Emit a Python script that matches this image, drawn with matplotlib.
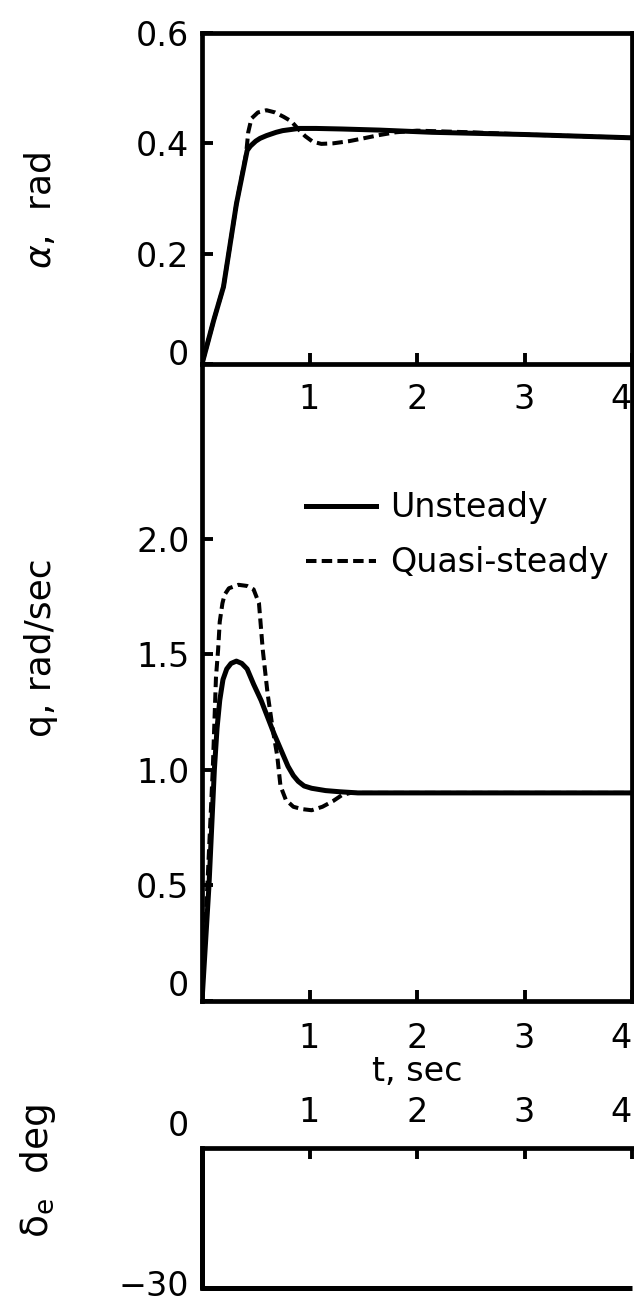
import matplotlib
matplotlib.use('Agg')
import matplotlib.pyplot as plt
from matplotlib.transforms import ScaledTranslation

plt.rcParams['font.family'] = ['DejaVu Sans']
plt.rcParams['font.size'] = 24
plt.rcParams['mathtext.fontset'] = 'dejavusans'

# angle of attack, rad
t_alpha_unst = [0, 0.11, 0.20, 0.32, 0.42, 0.45, 0.50, 0.54, 0.60, 0.69, 0.75, 0.90, 1.06, 1.30, 1.65, 2.14, 3.0, 4.0]
alpha_unst = [0, 0.08, 0.14, 0.29, 0.387, 0.395, 0.404, 0.409, 0.414, 0.42, 0.423, 0.427, 0.427, 0.426, 0.424, 0.42, 0.416, 0.41]
t_alpha_qs = [0, 0.11, 0.20, 0.32, 0.41, 0.43, 0.46, 0.52, 0.60, 0.68, 0.76, 0.83, 0.90, 0.96, 1.03, 1.11,
              1.22, 1.37, 1.50, 1.65, 1.80, 2.0, 2.5, 3.0, 4.0]
alpha_qs = [0, 0.08, 0.14, 0.29, 0.38, 0.42, 0.445, 0.456, 0.46, 0.456, 0.448, 0.44, 0.425, 0.413, 0.403, 0.399,
            0.40, 0.404, 0.409, 0.415, 0.42, 0.423, 0.42, 0.416, 0.41]

# pitch rate, rad/sec
t_q_unst = [0, 0.065, 0.115, 0.14, 0.165, 0.195, 0.23, 0.27, 0.32, 0.37, 0.42, 0.48, 0.55, 0.67, 0.80, 0.85,
            0.895, 0.95, 1.02, 1.15, 1.28, 1.45, 4.0]
q_unst = [0, 0.5, 1.0, 1.18, 1.30, 1.39, 1.436, 1.46, 1.47, 1.46, 1.436, 1.37, 1.30, 1.156, 1.015, 0.975,
          0.95, 0.93, 0.92, 0.91, 0.905, 0.90, 0.90]
t_q_qs = [0, 0.05, 0.10, 0.13, 0.15, 0.165, 0.19, 0.21, 0.25, 0.34, 0.42, 0.48, 0.53, 0.565, 0.61, 0.66,
          0.70, 0.73, 0.78, 0.85, 0.93, 1.02, 1.12, 1.22, 1.30, 1.38, 4.0]
q_qs = [0, 0.5, 1.0, 1.40, 1.52, 1.64, 1.72, 1.757, 1.785, 1.80, 1.795, 1.78, 1.72, 1.52, 1.33, 1.17,
        1.06, 0.93, 0.87, 0.84, 0.83, 0.825, 0.84, 0.865, 0.89, 0.90, 0.90]

# elevator step, deg
t_de = [0, 0, 4]
de = [0, -30, -30]

t_ticks = [1, 2, 3, 4]
t_labels = ['1', '2', '3', '4']
alpha_ticks = [0, 0.2, 0.4, 0.6]
alpha_labels = ['0', '0.2', '0.4', '0.6']
q_ticks = [0, 0.5, 1.0, 1.5, 2.0]
q_labels = ['0', '0.5', '1.0', '1.5', '2.0']
de_ticks = [0, -30]
de_labels = ['0', '\u221230']

SOLID_LW = 3.6
DASH_LW = 2.9
DASHES = (2.6, 1.3)

fig = plt.figure(figsize=(6.34, 13.02), dpi=100)


def fy(px):
    return 1 - px / 1302


L, W = 202 / 634, 430 / 634
ax_a = fig.add_axes([L, fy(364), W, fy(33) - fy(364)])
ax_q = fig.add_axes([L, fy(1001), W, fy(364) - fy(1001)])
ax_d = fig.add_axes([L, fy(1288), W, fy(1148) - fy(1288)])

for ax in (ax_a, ax_q, ax_d):
    ax.patch.set_visible(False)
    for s in ax.spines.values():
        s.set_linewidth(3.4)
    ax.set_xlim(0, 4)
    ax.tick_params(direction='in', length=8, width=2.8, labelsize=24)
    ax.tick_params(axis='y', pad=9)


def shift_label(ax, i, dy):
    lab = ax.get_yticklabels()[i]
    lab.set_transform(lab.get_transform() + ScaledTranslation(0, dy, fig.dpi_scale_trans))


# alpha panel
ax_a.plot(t_alpha_qs, alpha_qs, color='k', lw=DASH_LW, dashes=DASHES)
ax_a.plot(t_alpha_unst, alpha_unst, color='k', lw=SOLID_LW)
ax_a.set_ylim(0, 0.6)
ax_a.set_yticks(alpha_ticks, alpha_labels)
ax_a.set_xticks(t_ticks, t_labels)
ax_a.tick_params(axis='x', pad=14)
ax_a.get_xticklabels()[-1].set_horizontalalignment('right')
shift_label(ax_a, 0, 0.12)
ax_a.set_ylabel(r'$\alpha$,  rad', fontsize=26)
ax_a.yaxis.set_label_coords(-0.335, 0.465)

# q panel
ax_q.plot(t_q_unst, q_unst, color='k', lw=SOLID_LW, label='Unsteady')
ax_q.plot(t_q_qs, q_qs, color='k', lw=DASH_LW, dashes=DASHES, label='Quasi-steady')
ax_q.set_ylim(0, 2.755)
ax_q.spines['top'].set_visible(False)
ax_q.set_yticks(q_ticks, q_labels)
ax_q.set_xticks(t_ticks, t_labels)
ax_q.tick_params(axis='x', pad=15)
ax_q.get_xticklabels()[-1].set_horizontalalignment('right')
shift_label(ax_q, 0, 0.18)
ax_q.set_xlabel('t, sec', labelpad=0)
ax_q.set_ylabel('q, rad/sec', fontsize=26)
ax_q.yaxis.set_label_coords(-0.335, 0.555)
ax_q.legend(loc='upper left', bbox_to_anchor=(0.243, 0.80), frameon=False,
            handlelength=2.1, handletextpad=0.4, labelspacing=0.66,
            borderaxespad=0, borderpad=0, fontsize=24)

# elevator panel
ax_d.plot(t_de, de, color='k', lw=SOLID_LW, clip_on=False, solid_capstyle='butt')
ax_d.set_ylim(-30, 0)
ax_d.spines['bottom'].set_visible(False)
ax_d.spines['right'].set_visible(False)
ax_d.xaxis.tick_top()
ax_d.set_xticks(t_ticks, t_labels)
ax_d.tick_params(axis='x', pad=14)
ax_d.get_xticklabels()[-1].set_horizontalalignment('right')
ax_d.set_yticks(de_ticks, de_labels)
ax_d.tick_params(axis='y', length=0)
shift_label(ax_d, 0, 0.25)
shift_label(ax_d, 1, 0.05)
ax_d.set_ylabel(r'δ$_\mathregular{e}$  deg', fontsize=27)
ax_d.yaxis.set_label_coords(-0.335, 0.836)

fig.savefig('out.png', dpi=100)
